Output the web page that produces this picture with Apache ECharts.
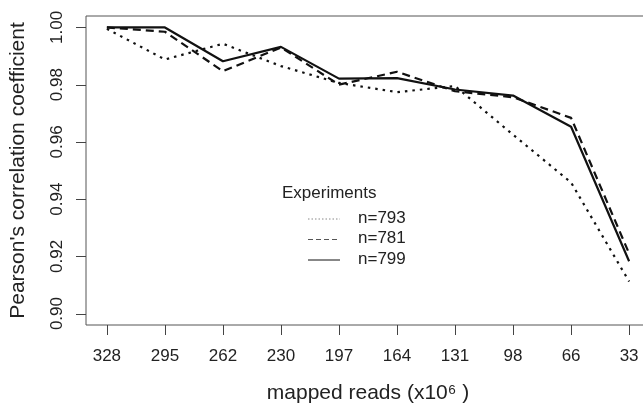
<!DOCTYPE html>
<html>
<head>
<meta charset="utf-8">
<script src="https://cdn.jsdelivr.net/npm/echarts@6/dist/echarts.min.js"></script>
<style>
html,body{margin:0;padding:0;background:#fff;}
#chart{width:643px;height:406px;}
</style>
</head>
<body>
<div id="chart"></div>
<script>
// Data
var categories = ['328','295','262','230','197','164','131','98','66','33'];
var n793 = [0.9995, 0.9888, 0.9943, 0.9865, 0.9806, 0.9774, 0.9795, 0.9625, 0.9458, 0.9112];
var n781 = [1.0000, 0.9985, 0.9847, 0.9930, 0.9800, 0.9845, 0.9777, 0.9756, 0.9684, 0.9210];
var n799 = [1.0000, 1.0000, 0.9882, 0.9932, 0.9821, 0.9823, 0.9783, 0.9762, 0.9653, 0.9183];
var yTicks = [0.90, 0.92, 0.94, 0.96, 0.98, 1.00];
var seriesNames = ['n=793', 'n=781', 'n=799'];
var legendTitle = 'Experiments';

var FONT = "'Liberation Sans', Arial, Helvetica, sans-serif";
var X_MIN = 0.64, X_MAX = 10.36, Y_MIN = 0.896, Y_MAX = 1.004;
var GRID = {left: 86, top: 16, right: -7, bottom: 81};
var W = 643, H = 406;
// x positions 1..n (one per category), as in an R index plot
var xPos = categories.map(function(c, i){ return i + 1; });
function pairs(arr){ return arr.map(function(v, i){ return [xPos[i], v]; }); }

// legend sample styles (thin, as in the reference key)
var legendStyles = [
  {stroke: '#888', lineWidth: 1, lineDash: [1.5, 2]},
  {stroke: '#555', lineWidth: 1, lineDash: [5, 3]},
  {stroke: '#111', lineWidth: 1, lineDash: null}
];
var legendRowY = [219, 239.5, 260];
var legendGraphics = [];
seriesNames.forEach(function(name, i){
  legendGraphics.push({
    type: 'line', silent: true,
    shape: {x1: 308, y1: legendRowY[i], x2: 340, y2: legendRowY[i]},
    style: legendStyles[i]
  });
  legendGraphics.push({
    type: 'text', silent: true,
    x: 358, y: legendRowY[i] - 1,
    style: {text: name, font: '17px ' + FONT, fill: '#222', verticalAlign: 'middle', align: 'left'}
  });
});
legendGraphics.push({
  type: 'text', silent: true,
  x: 282, y: 193,
  style: {text: legendTitle, font: '17px ' + FONT, fill: '#222', verticalAlign: 'middle', align: 'left'}
});

// y-axis tick marks: pixel position from the chart's scale when available
function yTickGraphics(chart){
  var plotH = H - GRID.top - GRID.bottom;
  return yTicks.map(function(v){
    var py = GRID.top + (Y_MAX - v) / (Y_MAX - Y_MIN) * plotH;
    var px = GRID.left;
    try {
      var p = chart && chart.convertToPixel({gridIndex: 0}, [X_MIN, v]);
      if (p && isFinite(p[0]) && isFinite(p[1])) { px = p[0]; py = p[1]; }
    } catch (e) {}
    py = Math.round(py) + 0.5;
    px = Math.round(px);
    return {type: 'line', silent: true, z: 100,
            shape: {x1: px - 10, y1: py, x2: px, y2: py},
            style: {stroke: '#444', lineWidth: 1}};
  });
}

var chart = echarts.init(document.getElementById('chart'), null, {renderer: 'canvas'});
var option = {
  animation: false,
  backgroundColor: '#ffffff',
  textStyle: {fontFamily: FONT},
  graphic: legendGraphics.concat(yTickGraphics(null)),
  grid: {left: GRID.left, top: GRID.top, right: GRID.right, bottom: GRID.bottom,
         outerBoundsMode: 'none', containLabel: false,
         show: true, borderColor: '#555', borderWidth: 1, backgroundColor: 'transparent'},
  xAxis: {
    type: 'value',
    position: 'bottom',
    min: X_MIN, max: X_MAX,
    name: 'mapped reads (x10\u2076 )',
    nameLocation: 'middle',
    nameGap: 58,
    nameTextStyle: {fontFamily: FONT, fontSize: 21, color: '#222'},
    axisLine: {show: false},
    splitLine: {show: false},
    axisTick: {show: true, length: 10, lineStyle: {color: '#444', width: 1}, customValues: xPos},
    axisLabel: {
      customValues: xPos,
      margin: 23,
      fontFamily: FONT, fontSize: 17, color: '#222',
      formatter: function(v){ return categories[Math.round(v) - 1]; }
    }
  },
  yAxis: {
    type: 'value',
    position: 'left',
    min: Y_MIN, max: Y_MAX,
    name: "Pearson's correlation coefficient",
    nameLocation: 'middle',
    nameGap: 57,
    nameTextStyle: {fontFamily: FONT, fontSize: 21, color: '#222'},
    axisLine: {show: false},
    splitLine: {show: false},
    axisTick: {show: false},
    axisLabel: {
      customValues: yTicks,
      rotate: 90,
      margin: 20,
      fontFamily: FONT, fontSize: 17, color: '#222',
      formatter: function(v){ return v.toFixed(2); }
    }
  },
  series: [
    {name: seriesNames[0], type: 'line', data: pairs(n793), showSymbol: false, symbol: 'none',
     lineStyle: {color: '#111', width: 2.2, type: [2.5, 5], cap: 'butt'}},
    {name: seriesNames[1], type: 'line', data: pairs(n781), showSymbol: false, symbol: 'none',
     lineStyle: {color: '#111', width: 2.2, type: [8, 5], cap: 'butt'}},
    {name: seriesNames[2], type: 'line', data: pairs(n799), showSymbol: false, symbol: 'none',
     lineStyle: {color: '#111', width: 2.2, type: 'solid'}}
  ]
};
chart.setOption(option);
try {
  chart.setOption({graphic: legendGraphics.concat(yTickGraphics(chart))});
} catch (e) {}
</script>
</body>
</html>
